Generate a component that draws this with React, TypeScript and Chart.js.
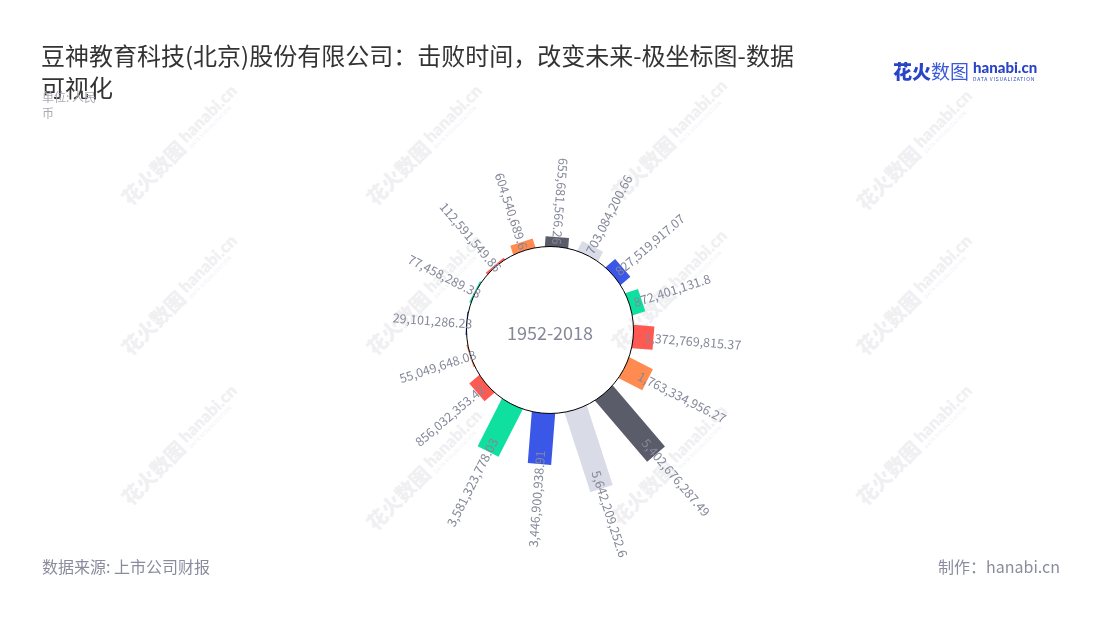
import React, { useEffect, useRef } from 'react';
import { Chart, registerables, PolarAreaController, ArcElement } from 'chart.js';

Chart.register(...registerables);

// ---------- data ----------
const categories = ['2003', '2004', '2005', '2006', '2007', '2008', '2009', '2010', '2011', '2012', '2013', '2014', '2015', '2016', '2017', '2018'];
const values = [
  29101286.23, 77458289.38, 112591549.86, 604540689.6, 655681566.26, 703084200.66,
  827519917.07, 872401131.8, 1372769815.37, 1763334956.27, 5402676287.49, 5642209252.6,
  3446900938.91, 3581323778.03, 856032353.42, 55049648.08,
];
const barColors = ['#3b57e8', '#0fe0a0', '#ff5a52', '#ff8b50', '#5b5c69', '#d9dce6'];
const centerLabel = '1952-2018';
const titleLines = ['豆神教育科技(北京)股份有限公司：击败时间，改变未来-极坐标图-数据', '可视化'];
const subtitleLines = ['单位: 人民', '币'];
const sourceText = '数据来源: 上市公司财报';
const creditText = '制作：hanabi.cn';

// radial axis range (value 0 sits on the inner circle)
const AXIS_MIN = -5.653e9;
const AXIS_MAX = 5.857e9;
const START_ANGLE = 263.25;
const BAR_FRACTION = 0.72;

const FONT = '"Noto Sans CJK SC", "Noto Sans", sans-serif';
const LABEL_COLOR = '#858899';

const wmPositions: [number, number][] = [
  [180, 145], [425, 145], [670, 140], [915, 150],
  [180, 295], [425, 295], [670, 290], [915, 295],
  [180, 445], [425, 470], [670, 465], [915, 445],
];

// ---------- custom radial bar element / controller ----------
class RadialBarElement extends (ArcElement as any) {
  static id = 'radialBarElement';
  draw(ctx: CanvasRenderingContext2D) {
    const p: any = (this as any).getProps(['x', 'y', 'startAngle', 'endAngle', 'innerRadius', 'outerRadius']);
    const opts: any = (this as any).options;
    const { x, y, startAngle, endAngle, innerRadius, outerRadius } = p;
    if (!(outerRadius > innerRadius) || !(innerRadius > 0)) return;
    const mid = (startAngle + endAngle) / 2;
    const half = (endAngle - startAngle) / 2;
    const hw = innerRadius * Math.sin(half) * BAR_FRACTION;
    const a = Math.asin(hw / innerRadius);
    ctx.save();
    ctx.translate(x, y);
    ctx.rotate(mid);
    ctx.beginPath();
    ctx.moveTo(innerRadius * Math.cos(a), -hw);
    ctx.lineTo(outerRadius, -hw);
    ctx.lineTo(outerRadius, hw);
    ctx.lineTo(innerRadius * Math.cos(a), hw);
    ctx.arc(0, 0, innerRadius, a, -a, true);
    ctx.closePath();
    ctx.fillStyle = opts.backgroundColor;
    ctx.fill();
    ctx.restore();
  }
}

class RadialBarController extends (PolarAreaController as any) {
  static id = 'radialBar';
  static defaults = { dataElementType: 'radialBarElement' };
  updateElement(element: any, index: number, properties: any, mode: any) {
    if (properties && typeof properties.outerRadius === 'number') {
      const scale = (this as any)._cachedMeta.rScale;
      properties.innerRadius = scale.getDistanceFromCenterForValue(0);
    }
    super.updateElement(element, index, properties, mode);
  }
}

Chart.register(RadialBarElement as any, RadialBarController as any);

const fmt = (v: number) => v.toLocaleString('en-US', { maximumFractionDigits: 2 });

const labelPlugin = {
  id: 'radialLabels',
  afterDraw(chart: any) {
    const meta = chart.getDatasetMeta(0);
    const ctx: CanvasRenderingContext2D = chart.ctx;
    const vals = chart.data.datasets[0].data as number[];
    ctx.save();
    ctx.font = `12.5px ${FONT}`;
    ctx.fillStyle = LABEL_COLOR;
    ctx.textBaseline = 'middle';
    meta.data.forEach((el: any, i: number) => {
      const { x, y, startAngle, endAngle, innerRadius, outerRadius } = el.getProps(
        ['x', 'y', 'startAngle', 'endAngle', 'innerRadius', 'outerRadius'], true);
      const mid = (startAngle + endAngle) / 2;
      const len = outerRadius - innerRadius;
      const r = outerRadius - (6 + 0.15 * len);
      const deg = (((mid * 180) / Math.PI + 90) % 360 + 360) % 360;
      const outward = deg > 15 && deg < 175;
      ctx.save();
      ctx.translate(x + r * Math.cos(mid), y + r * Math.sin(mid));
      if (outward) {
        ctx.rotate(mid);
        ctx.textAlign = 'left';
      } else {
        ctx.rotate(mid + Math.PI);
        ctx.textAlign = 'right';
      }
      ctx.fillText(fmt(vals[i]), 0, 0);
      ctx.restore();
    });
    const scale = chart.scales.r;
    ctx.font = `18px ${FONT}`;
    ctx.textAlign = 'center';
    ctx.fillText(centerLabel, scale.xCenter, scale.yCenter + 3);
    ctx.restore();
  },
};

export default function App() {
  const ref = useRef<HTMLCanvasElement | null>(null);

  useEffect(() => {
    if (!ref.current) return;
    const chart = new Chart(ref.current, {
      type: 'radialBar' as any,
      data: {
        labels: categories,
        datasets: [
          {
            data: values,
            backgroundColor: categories.map((_, i) => barColors[i % barColors.length]),
            borderWidth: 0,
          } as any,
        ],
      },
      options: {
        responsive: false,
        animation: false,
        events: [],
        layout: { padding: { left: 380, right: 380, top: 160, bottom: 120 } },
        plugins: { legend: { display: false }, tooltip: { enabled: false } },
        scales: {
          r: {
            type: 'radialLinear',
            min: AXIS_MIN,
            max: AXIS_MAX,
            startAngle: START_ANGLE,
            ticks: { display: false },
            pointLabels: { display: false },
            angleLines: { display: false },
            grid: {
              z: 1,
              circular: true,
              lineWidth: 1,
              color: (c: any) => (c.tick && c.tick.value === 0 ? '#000000' : 'rgba(0,0,0,0)'),
            },
            afterBuildTicks: (s: any) => {
              s.ticks = [{ value: AXIS_MIN }, { value: 0 }, { value: AXIS_MAX }];
            },
          } as any,
        },
      } as any,
      plugins: [labelPlugin as any],
    });
    return () => chart.destroy();
  }, []);

  return (
    <div style={{ position: 'absolute', left: 0, top: 0, width: 1100, height: 620, overflow: 'hidden', background: '#fff', fontFamily: FONT }}>
      {wmPositions.map(([cx, cy], i) => (
        <div
          key={i}
          style={{
            position: 'absolute', left: cx, top: cy, transform: 'translate(-50%, -50%) rotate(-45deg)',
            whiteSpace: 'nowrap', color: '#f0f0f2', display: 'flex', alignItems: 'center', pointerEvents: 'none',
          }}
        >
          <span style={{ fontSize: 20, fontWeight: 900 }}>花火数图</span>
          <span style={{ display: 'flex', flexDirection: 'column', marginLeft: 4 }}>
            <span style={{ fontSize: 17, fontWeight: 800, fontFamily: 'Lato, sans-serif', lineHeight: '17px' }}>hanabi.cn</span>
            <span style={{ fontSize: 5, letterSpacing: 0.5, lineHeight: '6px' }}>DATA VISUALIZATION</span>
          </span>
        </div>
      ))}
      <canvas ref={ref} width={1100} height={620} style={{ position: 'absolute', left: 0, top: 0 }} />
      <div style={{ position: 'absolute', left: 41, top: 39, fontSize: 24, lineHeight: '32px', color: '#333', whiteSpace: 'nowrap' }}>
        {titleLines[0]}
        <br />
        {titleLines[1]}
      </div>
      <div style={{ position: 'absolute', left: 42, top: 89, fontSize: 12, lineHeight: '16px', color: '#aaaab2', whiteSpace: 'nowrap' }}>
        {subtitleLines[0]}
        <br />
        {subtitleLines[1]}
      </div>
      <div style={{ position: 'absolute', left: 893, top: 59, display: 'flex', alignItems: 'center', whiteSpace: 'nowrap' }}>
        <span style={{ fontSize: 19, fontWeight: 900, color: '#2a44c8', lineHeight: '24px' }}>花火</span>
        <span style={{ fontSize: 19, fontWeight: 400, color: '#3a5ad8', lineHeight: '24px' }}>数图</span>
        <span style={{ display: 'flex', flexDirection: 'column', marginLeft: 4 }}>
          <span style={{ fontSize: 15, fontWeight: 900, color: '#2a44c8', fontFamily: 'Lato, sans-serif', lineHeight: '15px' }}>hanabi.cn</span>
          <span style={{ fontSize: 5, letterSpacing: 0.75, color: '#2a44c8', lineHeight: '7px' }}>DATA VISUALIZATION</span>
        </span>
      </div>
      <div style={{ position: 'absolute', left: 42, top: 556, fontSize: 16, lineHeight: '20px', color: '#8a8c9e', whiteSpace: 'nowrap' }}>
        {sourceText}
      </div>
      <div style={{ position: 'absolute', right: 40, top: 556, fontSize: 16, lineHeight: '20px', color: '#8a8c9e', whiteSpace: 'nowrap' }}>
        {creditText}
      </div>
    </div>
  );
}
